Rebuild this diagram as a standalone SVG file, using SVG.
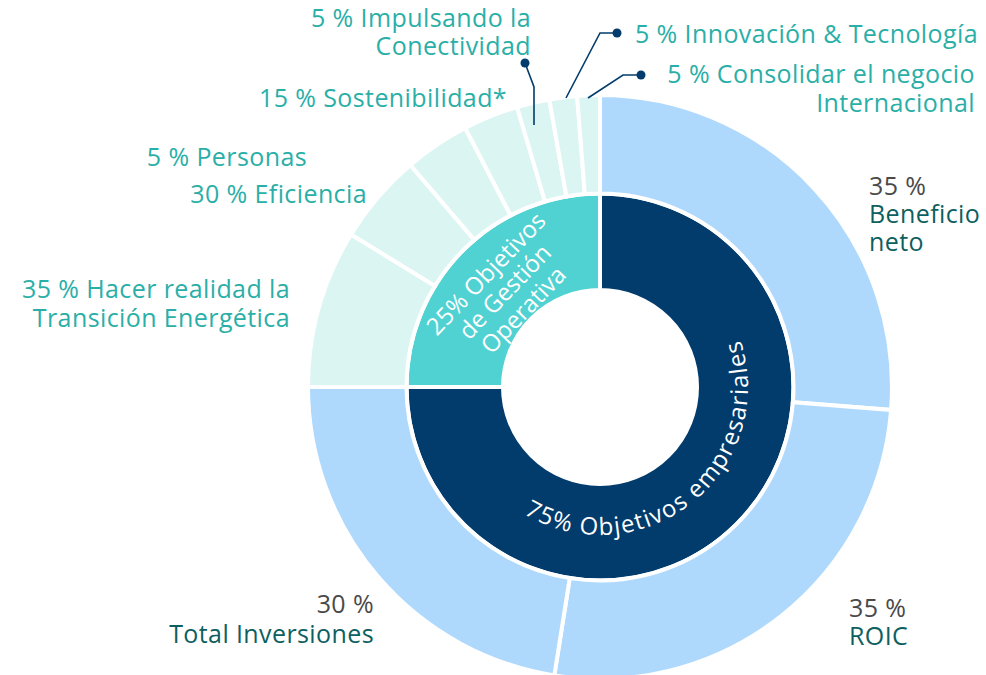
<svg xmlns="http://www.w3.org/2000/svg" width="986" height="675" viewBox="0 0 986 675">
<defs>
<style>
.w{stroke:#fff;stroke-width:4;stroke-linejoin:miter}
.navy{fill:#023c6c}
.teal{fill:#50d2d2}
.lt{fill:#dbf5f3}
.lb{fill:#afd9fc}
.lbl,.pct,.nm{font-family:"Open Sans",sans-serif;font-size:25px;letter-spacing:0.4px}
.lbl{fill:#2aafa8}
.pct{fill:#4a4a4a}
.nm{fill:#0e5f5f}
.in{font-family:"Open Sans",sans-serif;font-size:24px;fill:#fff}
.ld{fill:none;stroke:#023c6c;stroke-width:1.6}
.dot{fill:#023c6c}
</style>
<path id="arc75" d="M 477.30 469.76 A 148 148 0 1 0 706.46 284.19"/>
</defs>
<g id="ring-inner">
<g id="n-empresariales">
<path class="w navy" d="M 600 193.5 A 193.5 193.5 0 1 1 406.5 387 L 503 387 A 97 97 0 1 0 600 290 Z"/>
<text class="in" letter-spacing="1.4"><textPath href="#arc75" startOffset="50%" text-anchor="middle">75% Objetivos empresariales</textPath></text>
</g>
<g id="n-gestion">
<path class="w teal" d="M 406.5 387 A 193.5 193.5 0 0 1 600 193.5 L 600 290 A 97 97 0 0 0 503 387 Z"/>
<g transform="translate(505 292) rotate(-46)">
<text class="in" text-anchor="middle" x="0" y="-18">25% Objetivos</text>
<text class="in" text-anchor="middle" x="0" y="8">de Gestión</text>
<text class="in" text-anchor="middle" x="0" y="34">Operativa</text>
</g>
</g>
</g>
<g id="ring-outer">
<g id="n-beneficio"><path class="w lb" d="M 600 95 A 292 292 0 0 1 891.10 409.91 L 792.90 402.18 A 193.5 193.5 0 0 0 600 193.5 Z"/>
<text class="pct" x="869" y="195">35 %</text><text class="nm" x="869" y="223">Beneficio</text><text class="nm" x="869" y="251">neto</text></g>
<g id="n-roic"><path class="w lb" d="M 891.10 409.91 A 292 292 0 0 1 554.32 675.41 L 569.73 578.12 A 193.5 193.5 0 0 0 792.90 402.18 Z"/>
<text class="pct" x="849" y="617">35 %</text><text class="nm" x="849" y="645">ROIC</text></g>
<g id="n-inversiones"><path class="w lb" d="M 554.32 675.41 A 292 292 0 0 1 308 387 L 406.5 387 A 193.5 193.5 0 0 0 569.73 578.12 Z"/>
<text class="pct" x="374" y="613" text-anchor="end">30 %</text><text class="nm" x="374" y="643" text-anchor="end">Total Inversiones</text></g>
<g id="n-transicion"><path class="w lt" d="M 308 387 A 292 292 0 0 1 351.03 234.43 L 435.01 285.90 A 193.5 193.5 0 0 0 406.5 387 Z"/>
<text class="lbl" x="290" y="298" text-anchor="end">35 % Hacer realidad la</text><text class="lbl" x="290" y="327" text-anchor="end">Transición Energética</text></g>
<g id="n-eficiencia"><path class="w lt" d="M 351.03 234.43 A 292 292 0 0 1 410.36 164.96 L 474.33 239.86 A 193.5 193.5 0 0 0 435.01 285.90 Z"/>
<text class="lbl" x="367" y="203" text-anchor="end">30 % Eficiencia</text></g>
<g id="n-personas"><path class="w lt" d="M 410.36 164.96 A 292 292 0 0 1 465.17 127.99 L 510.65 215.36 A 193.5 193.5 0 0 0 474.33 239.86 Z"/>
<text class="lbl" x="307" y="166" text-anchor="end">5 % Personas</text></g>
<g id="n-sostenibilidad"><path class="w lt" d="M 465.17 127.99 A 292 292 0 0 1 517.07 107.02 L 545.04 201.47 A 193.5 193.5 0 0 0 510.65 215.36 Z"/>
<text class="lbl" x="507" y="107" text-anchor="end">15 % Sostenibilidad*</text></g>
<g id="n-conectividad"><path class="w lt" d="M 517.07 107.02 A 292 292 0 0 1 549.29 99.44 L 566.40 196.44 A 193.5 193.5 0 0 0 545.04 201.47 Z"/>
<text class="lbl" x="531" y="27" text-anchor="end">5 % Impulsando la</text><text class="lbl" x="531" y="55" text-anchor="end">Conectividad</text></g>
<g id="n-innovacion"><path class="w lt" d="M 549.29 99.44 A 292 292 0 0 1 577.09 95.90 L 584.82 194.10 A 193.5 193.5 0 0 0 566.40 196.44 Z"/>
<text class="lbl" x="635" y="43">5 % Innovación &amp; Tecnología</text></g>
<g id="n-internacional"><path class="w lt" d="M 577.09 95.90 A 292 292 0 0 1 600 95 L 600 193.5 A 193.5 193.5 0 0 0 584.82 194.10 Z"/>
<text class="lbl" x="975" y="83" text-anchor="end">5 % Consolidar el negocio</text><text class="lbl" x="975" y="112" text-anchor="end">Internacional</text></g>
</g>
<g id="connectors">
<polyline class="ld" points="525,63 534,87 534,125"/>
<circle class="dot" cx="525" cy="63" r="4.5"/>
<polyline class="ld" points="617,33 600,33 566,98"/>
<circle class="dot" cx="617" cy="33" r="4.5"/>
<polyline class="ld" points="641,75 623,75 588,98"/>
<circle class="dot" cx="641" cy="75" r="4.5"/>
</g>
</svg>
